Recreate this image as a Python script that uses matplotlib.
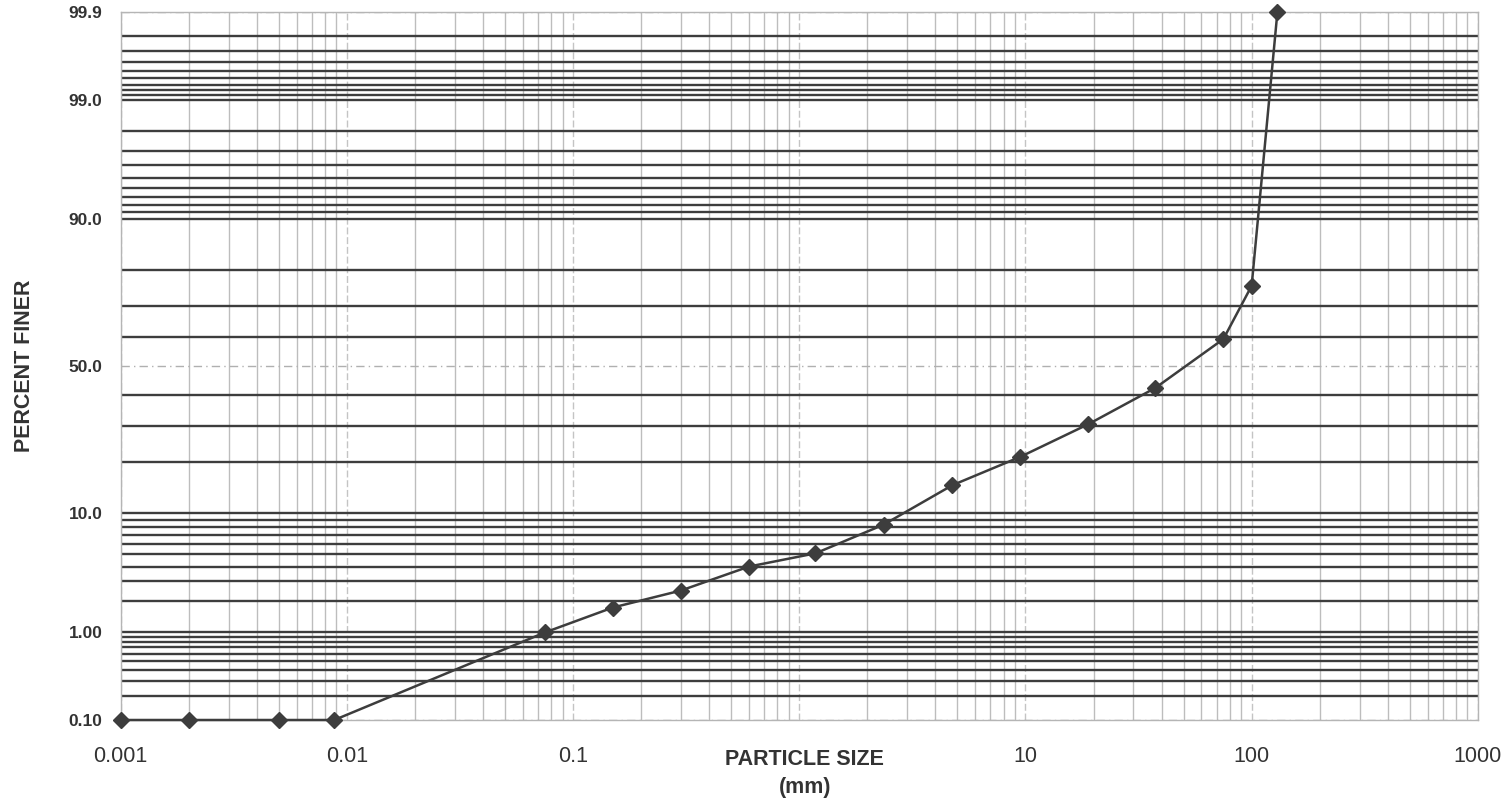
import math
import numpy as np
import matplotlib
matplotlib.use("Agg")
import matplotlib.pyplot as plt
from matplotlib.ticker import FixedLocator, FixedFormatter, LogLocator, NullFormatter

plt.rcParams['font.family'] = ['Liberation Sans', 'DejaVu Sans']

# sieve results
size_mm = [0.001, 0.002, 0.005, 0.0088, 0.075, 0.15, 0.3, 0.6, 1.18, 2.36,
           4.75, 9.5, 19.0, 37.5, 75.0, 100.0, 130.0]
percent_finer = [0.1, 0.1, 0.1, 0.1, 1.0, 1.75, 2.5, 4.0, 5.1, 8.3,
                 14.9, 21.4, 30.6, 42.4, 59.3, 75.8, 99.9]

x_ticks = [0.001, 0.01, 0.1, 1, 10, 100, 1000]
x_labels = ["0.001", "0.01", "0.1", "", "10", "100", "1000"]
y_ticks = [0.1, 1, 10, 50, 90, 99, 99.9]
y_labels = ["0.10", "1.00", "10.0", "50.0", "90.0", "99.0", "99.9"]

# probability paper rulings
grid_pct = [0.2, 0.3, 0.4, 0.5, 0.6, 0.7, 0.8, 0.9, 1, 2, 3, 4, 5, 6, 7, 8, 9,
            10, 20, 30, 40, 60, 70, 80, 90, 91, 92, 93, 94, 95, 96, 97, 98,
            99, 99.1, 99.2, 99.3, 99.4, 99.5, 99.6, 99.7, 99.8]
light_pct = [0.1, 50, 99.9]

# Acklam inverse normal cdf
A = [-3.969683028665376e+01, 2.209460984245205e+02, -2.759285104469687e+02,
     1.383577518672690e+02, -3.066479806614716e+01, 2.506628277459239e+00]
B = [-5.447609879822406e+01, 1.615858368580409e+02, -1.556989798598866e+02,
     6.680131188771972e+01, -1.328068155288572e+01]
C = [-7.784894002430293e-03, -3.223964580411365e-01, -2.400758277161838e+00,
     -2.549671348542797e+00, 4.374664141464968e+00, 2.938163982698783e+00]
D = [7.784695709041462e-03, 3.224671290700398e-01, 2.445134137142996e+00,
     3.754408661907416e+00]


def tail(q):
    num = ((((C[0]*q + C[1])*q + C[2])*q + C[3])*q + C[4])*q + C[5]
    den = (((D[0]*q + D[1])*q + D[2])*q + D[3])*q + 1
    return num / den


def pct_to_z(pct):
    p = np.clip(np.asarray(pct, dtype=float) / 100.0, 1e-9, 1 - 1e-9)
    q = p - 0.5
    r = q * q
    mid = ((((((A[0]*r + A[1])*r + A[2])*r + A[3])*r + A[4])*r + A[5])*q /
           (((((B[0]*r + B[1])*r + B[2])*r + B[3])*r + B[4])*r + 1))
    lo = tail(np.sqrt(-2 * np.log(p)))
    hi = -tail(np.sqrt(-2 * np.log(1 - p)))
    return np.where(p < 0.02425, lo, np.where(p > 1 - 0.02425, hi, mid))


_erf = np.vectorize(math.erf, otypes=[float])


def z_to_pct(z):
    return 50.0 * (1 + _erf(np.asarray(z, dtype=float) / math.sqrt(2)))


dark = '#3d3d3d'
fig = plt.figure(figsize=(15.08, 8.06), dpi=100)
ax = fig.add_axes([0.080, 0.1067, 0.900, 0.8784])

ax.set_xscale('log')
ax.set_yscale('function', functions=(pct_to_z, z_to_pct))
ax.set_xlim(0.001, 1000)
ax.set_ylim(0.1, 99.9)

ax.xaxis.set_major_locator(FixedLocator(x_ticks))
ax.xaxis.set_major_formatter(FixedFormatter(x_labels))
ax.xaxis.set_minor_locator(LogLocator(base=10, subs=range(2, 10), numticks=50))
ax.xaxis.set_minor_formatter(NullFormatter())
ax.yaxis.set_major_locator(FixedLocator(y_ticks))
ax.yaxis.set_major_formatter(FixedFormatter(y_labels))
ax.yaxis.set_minor_locator(FixedLocator([]))

ax.tick_params(axis='x', which='both', length=0, pad=19, labelsize=15.5, labelcolor='#333333')
ax.tick_params(axis='y', which='both', length=0, pad=13, labelsize=12.5, labelcolor='#333333')
for t in ax.get_yticklabels():
    t.set_fontweight('bold')

ax.grid(True, axis='x', which='minor', color='#bdbdbd', lw=1.0)
ax.grid(True, axis='x', which='major', color='#c4c4c4', lw=1.0, ls=(0, (5, 2)))
ax.set_axisbelow(True)

for p in grid_pct:
    ax.axhline(p, color=dark, lw=1.7, zorder=1.5)
for p in light_pct:
    ax.axhline(p, color='#b0b0b0', lw=1.0, ls=(0, (6, 3, 1, 3)), zorder=1.5)

for s in ax.spines.values():
    s.set_color('#b5b5b5')
    s.set_linewidth(1.0)

ax.plot(size_mm, percent_finer, color=dark, lw=1.8, marker='D', ms=8.5,
        mfc=dark, mec=dark, clip_on=False, zorder=5)

ax.set_xlabel("PARTICLE SIZE\n(mm)", fontsize=15.5, fontweight='bold',
              color='#333333', linespacing=1.45, va='top')
ax.xaxis.set_label_coords(0.504, -0.041)
ax.set_ylabel("PERCENT FINER", fontsize=15.5, fontweight='bold',
              color='#333333', va='center')
ax.yaxis.set_label_coords(-0.0705, 0.5)

fig.savefig("out.png", dpi=100)
